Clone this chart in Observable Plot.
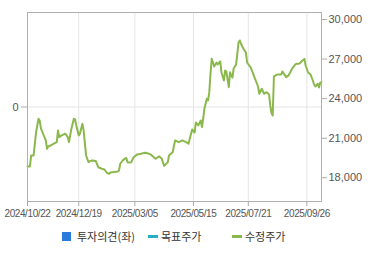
<!DOCTYPE html>
<html>
<head>
<meta charset="utf-8">
<script src="https://cdn.jsdelivr.net/npm/d3@7"></script>
<script src="https://cdn.jsdelivr.net/npm/@observablehq/plot@0.6"></script>
<style>
  html, body { margin: 0; padding: 0; background: #fff; }
  #wrap { width: 370px; height: 255px; position: relative; overflow: hidden; }
  #chart g[aria-label="x-axis tick label"] text { letter-spacing: -0.4px; }
  #legend { position: relative; height: 31px; font-family: "Noto Sans CJK KR", "Noto Sans", sans-serif; font-size: 11px; color: #333; }
  #legend .sw, #legend .tx { position: absolute; }
  #legend .tx { top: 4px; line-height: 16px; }
</style>
</head>
<body>
<div id="wrap">
  <div id="chart"></div>
  <div id="legend"></div>
</div>
<script>
// trading-day index of each sampled point (x) and adjusted close price (수정주가)
const dayIndex = [0,2,3,5,7,9,10,11,13,15,16,17,19,22,24,25,26,28,31,33,34,36,38,39,40,42,43,45,46,48,50,51,53,56,58,61,63,65,67,68,71,74,75,76,78,79,81,82,83,85,87,90,93,95,97,101,104,105,108,110,111,112,114,115,116,119,121,124,127,130,132,133,135,137,138,140,142,143,144,145,147,148,149,150,151,152,153,155,156,158,159,161,162,163,165,166,167,168,169,171,172,173,174,175,177,179,180,183,186,189,190,192,194,196,198,199,200,201,202,205,208,209,212,214,217,220,223,225,227,228,230,232,233,235,236,238,239,240,241];
const closePrice = [18860,18860,19690,19690,21430,22470,22340,21740,21280,20830,20200,20370,20450,20600,20700,21590,21080,21210,21340,21080,20700,21720,22470,22420,21970,21210,21360,22090,21590,19690,19180,19260,19310,19270,18800,18680,18630,18380,18300,18400,18430,18480,18550,19060,19310,19390,19500,19180,19160,19180,19560,19770,19820,19870,19900,19770,19520,19440,19620,19460,19180,18900,19090,19180,19690,19940,20830,20700,20830,20700,20580,20960,21660,21430,22190,21970,22340,21840,22470,23230,23990,23860,24470,25880,27020,26760,26440,26740,26590,26820,25980,25380,26130,26060,24870,26000,25760,25600,26290,26590,27400,28260,28410,28160,27780,27500,26740,26360,25630,24920,24370,24750,24370,24490,24320,23480,22900,22720,25680,25830,25830,26060,25630,25760,26290,26630,26670,26850,27010,26510,25980,25830,25600,25070,24920,25130,24850,25220,25250];

// x-axis ticks (trading-day index and label)
const xTickIndex = [0, 42, 88, 136, 181, 229];
const xTickLabel = ["2024/10/22", "2024/12/19", "2025/03/05", "2025/05/15", "2025/07/21", "2025/09/26"];
const xDomain = [0, 241];

// right axis (price) and left axis (투자의견)
const priceDomain = [16200, 30530];
const priceTicks = [18000, 21000, 24000, 27000, 30000];
const opinionDomain = [-1, 1];
const opinionTicks = [0];

// legend
const legendLabels = ["투자의견(좌)", "목표주가", "수정주가"];

const priceData = dayIndex.map((d, i) => ({day: d, price: closePrice[i]}));
const opinionToPrice = d3.scaleLinear(opinionDomain, priceDomain);
const opinionTickPos = opinionTicks.map(opinionToPrice);

const chart = Plot.plot({
  width: 370,
  height: 224,
  marginLeft: 27,
  marginRight: 49,
  marginTop: 12,
  marginBottom: 23,
  style: {fontFamily: "'Liberation Sans', Arial, sans-serif", color: "#555", background: "#fff", overflow: "visible"},
  x: {type: "linear", domain: xDomain, axis: null},
  y: {type: "linear", domain: priceDomain, axis: null},
  marks: [
    Plot.gridX(xTickIndex, {stroke: "#e4e4e4", strokeOpacity: 1}),
    Plot.gridY(opinionTickPos, {stroke: "#e4e4e4", strokeOpacity: 1}),
    Plot.axisX(xTickIndex, {tickFormat: (d) => xTickLabel[xTickIndex.indexOf(d)], tickSize: 5, tickPadding: 3, fontSize: 10, stroke: "#aaa", fill: "#555", label: null}),
    Plot.axisY(priceTicks, {anchor: "right", tickFormat: d3.format(","), tickSize: 5, tickPadding: 2, fontSize: 11, stroke: "#aaa", fill: "#555", label: null}),
    Plot.axisY(opinionTickPos, {anchor: "left", tickFormat: (d, i) => String(opinionTicks[i]), tickSize: 6, tickPadding: 3, fontSize: 11, stroke: "#aaa", fill: "#555", label: null}),
    Plot.line(priceData, {x: "day", y: "price", stroke: "#8bb84c", strokeWidth: 2}),
    Plot.frame({stroke: "#b0b0b0"})
  ]
});
document.getElementById("chart").appendChild(chart);

const legend = document.getElementById("legend");
legend.innerHTML = `
  <span class="sw" style="left:62px;top:8px;width:9px;height:9px;background:#2b7bdc"></span>
  <span class="tx" style="left:77px">${legendLabels[0]}</span>
  <span class="sw" style="left:148px;top:11px;width:10px;height:3px;background:#27aec4"></span>
  <span class="tx" style="left:161px">${legendLabels[1]}</span>
  <span class="sw" style="left:232px;top:11px;width:10px;height:3px;background:#8bb84c"></span>
  <span class="tx" style="left:245px">${legendLabels[2]}</span>
`;
</script>
</body>
</html>
